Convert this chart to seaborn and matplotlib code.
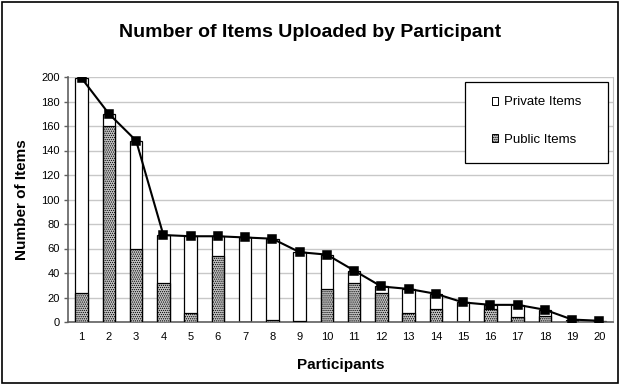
import matplotlib
matplotlib.use("Agg")
import matplotlib.pyplot as plt
import matplotlib.patches as mpatches
import seaborn as sns
import pandas as pd

participants = [str(i) for i in range(1, 21)]
total_items = [199, 170, 148, 71, 70, 70, 69, 68, 57, 55, 42, 29, 27, 23, 16, 14, 14, 10, 2, 1]
public_items = [24, 160, 60, 32, 7, 54, 0, 2, 1, 27, 32, 24, 7, 11, 0, 11, 4, 5, 0, 0]

df = pd.DataFrame({"participant": participants, "total": total_items, "public": public_items})

sns.set_style("white")
plt.rcParams["font.family"] = ["Liberation Sans", "DejaVu Sans"]
plt.rcParams["text.color"] = "black"
plt.rcParams["axes.labelcolor"] = "black"
plt.rcParams["xtick.color"] = "black"
plt.rcParams["ytick.color"] = "black"
plt.rcParams["hatch.color"] = "#808080"
plt.rcParams["hatch.linewidth"] = 0.6

fig = plt.figure(figsize=(6.2, 3.85), dpi=100)
# plot area ~ x 68..613 px, y 77..322 px
ax = fig.add_axes([68 / 620, 1 - 322 / 385, 545 / 620, 245 / 385])

# white bar = total, hatched bar = public part drawn over it
sns.barplot(data=df, x="participant", y="total", color="white", edgecolor="black",
            linewidth=0.9, width=0.45, ax=ax, zorder=2)
sns.barplot(data=df, x="participant", y="public", color="#c4c4c4", edgecolor="black",
            linewidth=0.9, width=0.45, hatch="........", ax=ax, zorder=3)
sns.pointplot(data=df, x="participant", y="total", color="black", markers="s",
              markersize=5.5, linewidth=1.5, ax=ax, zorder=4)

ax.set_ylim(0, 200)
ax.set_xlim(-0.5, 19.5)
ax.set_yticks(range(0, 201, 20))
ax.yaxis.grid(True, color="#c8c8c8", linewidth=1)
ax.set_axisbelow(True)
ax.spines["top"].set_visible(False)
ax.spines["right"].set_color("#c0c0c0")
ax.spines["left"].set_color("#606060")
ax.spines["bottom"].set_color("#606060")
ax.spines["left"].set_linewidth(1.2)
ax.spines["bottom"].set_linewidth(1.2)
ax.set_xticks([i + 0.5 for i in range(-1, 20)], minor=True)
ax.tick_params(axis="x", which="major", length=0, labelsize=8, pad=7.5)
ax.tick_params(axis="x", which="minor", length=3, width=1, color="#606060")
ax.tick_params(axis="y", length=3, width=1, color="#606060", labelsize=8, pad=3, left=True)

ax.set_xlabel("Participants", fontsize=11, fontweight="bold")
ax.set_ylabel("Number of Items", fontsize=11, fontweight="bold")
ax.xaxis.set_label_coords(0.5, -0.147)
ax.yaxis.set_label_coords(-0.072, 0.5)
fig.text(0.5, 1 - 37 / 385, "Number of Items Uploaded by Participant", fontsize=14,
         fontweight="bold", ha="center", va="baseline")

# legend: drawn frame box plus centred entries
fig.patches.append(mpatches.Rectangle((465 / 620, 1 - 163 / 385), 143 / 620, 81 / 385,
                                      transform=fig.transFigure, facecolor="white",
                                      edgecolor="black", linewidth=0.9, zorder=5))
handles = [mpatches.Patch(facecolor="white", edgecolor="black", linewidth=0.7, label="Private Items"),
           mpatches.Patch(facecolor="#c4c4c4", edgecolor="black", linewidth=0.7, hatch="........",
                          label="Public Items")]
leg = fig.legend(handles=handles, loc="center", bbox_to_anchor=(536.5 / 620, 1 - 121 / 385),
                 frameon=False, fontsize=9.5, handlelength=0.5, handleheight=0.5,
                 labelspacing=1.9, handletextpad=0.45, borderpad=0)
leg.set_zorder(6)

fig.patches.append(mpatches.Rectangle((0.004, 0.006), 0.992, 0.99, transform=fig.transFigure,
                                      fill=False, edgecolor="black", linewidth=1.2))
fig.savefig("out.png", dpi=100)
